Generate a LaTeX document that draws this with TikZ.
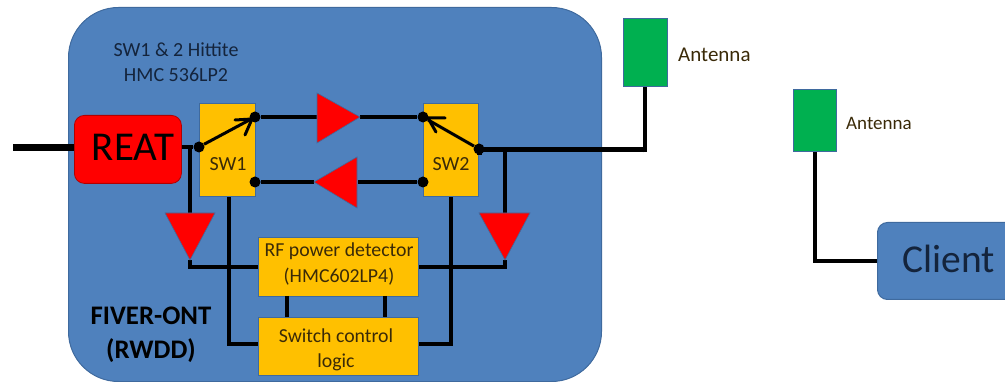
\documentclass[tikz,border=0pt]{standalone}
\usepackage{fontspec}
\setmainfont{Carlito}
\definecolor{bluebox}{HTML}{4F81BD}
\definecolor{blueedge}{HTML}{3F6A9E}
\definecolor{amberbox}{HTML}{FFC000}
\definecolor{greenbox}{HTML}{00B050}
\definecolor{darktext}{HTML}{14243C}
\definecolor{browntext}{HTML}{3A2A08}
\tikzset{
  panel/.style={fill=bluebox,draw=blueedge,line width=1pt,rounded corners=50pt,inner sep=0pt},
  amberblock/.style={fill=amberbox,draw=blueedge,line width=1pt,inner sep=0pt},
  ambertext/.style={inner sep=0pt,align=center,text=browntext,font=\fontsize{19.8}{25.5}\selectfont},
  antennablock/.style={fill=greenbox,draw=blueedge,line width=1pt,inner sep=0pt},
  wire/.style={line width=3.7pt,line cap=butt,line join=miter},
  thickwire/.style={line width=7pt},
  junction/.style={circle,fill=black,inner sep=0pt,minimum size=11pt},
  amp/.style={fill=red,draw=blueedge,line width=.6pt},
  boxat/.style n args={4}{minimum width=#3-#1,minimum height=#4-#2,anchor=north west},
  lbl/.style={inner sep=0pt,align=center},
}
\begin{document}
\begin{tikzpicture}[x=1pt,y=-1pt]
\useasboundingbox (0,0) rectangle (1005,382);
\clip (0,0) rectangle (1005,382);
% panel
\node[panel,boxat={68}{7}{601}{381}] (panel) at (68,7) {};
% blocks
\node[fill=red,rounded corners=10pt,draw=red!70!black,line width=.8pt,inner sep=0pt,boxat={74}{115}{181}{183}] (reat) at (74,115) {};
\node[lbl,font=\fontsize{41}{41}\selectfont] (reatl) at (133,147) {REAT};
\node[amberblock,boxat={199}{103}{255}{196}] (swa) at (199,103) {};
\node[amberblock,boxat={423}{103}{478}{196}] (swb) at (423,103) {};
\node[lbl,text=browntext,font=\fontsize{20}{20}\selectfont] (swal) at (228,164) {SW1};
\node[lbl,text=browntext,font=\fontsize{20}{20}\selectfont] (swbl) at (451,164) {SW2};
\node[amberblock,boxat={258}{237}{418}{296}] (rf) at (258,237) {};
\node[ambertext] (rfl) at (339,264) {RF power detector\\(HMC602LP4)};
\node[amberblock,boxat={258}{317}{418}{375}] (ctl) at (258,317) {};
\node[ambertext] (ctll) at (336,350) {Switch control\\logic};
\node[antennablock,boxat={623}{18}{667}{86}] (anta) at (623,18) {};
\node[antennablock,boxat={793}{89}{836}{151}] (antb) at (793,89) {};
\node[fill=bluebox,draw=blueedge,line width=1pt,rounded corners=10pt,inner sep=0pt,boxat={877}{222}{1030}{299}] (client) at (877,222) {};
% junctions
\node[junction] (ain) at (199,147) {};
\node[junction] (aup) at (255,117) {};
\node[junction] (adn) at (255,182) {};
\node[junction] (bup) at (423,117) {};
\node[junction] (bdn) at (423,182) {};
\node[junction] (bout) at (479,149) {};
% helper coordinates
\coordinate (start) at (13,148);
\coordinate (tapa) at (190,147);
\coordinate (ldtop) at (190,213);
\coordinate (ldtip) at (190,260);
\coordinate (ldcorner) at (190,267);
\coordinate (rdtop) at (505,213);
\coordinate (rdtip) at (505,260);
\coordinate (rdcorner) at (505,267);
\coordinate (tapb) at (505,150);
\coordinate (acorner) at (645,152.5);
\coordinate (upin) at (317,117);
\coordinate (upout) at (360,117);
\coordinate (dnin) at (358,182);
\coordinate (dnout) at (314,182);
% wires
\draw[thickwire] (start) -- (reat.west |- start);
\draw[wire] (reat.east |- tapa) -- (ain);
\draw[wire] (tapa) -- (ldtop);
\draw[wire] (ldtip) -- (ldcorner) -- (rf.west |- ldcorner);
\draw[wire] (swa.south -| 229,0) -- (229,344) -- (ctl.west |- 0,344);
\draw[wire] (aup) -- (upin);
\draw[wire] (upout) -- (bup);
\draw[wire] (bdn) -- (dnin);
\draw[wire] (dnout) -- (adn);
\draw[wire] (287,296) -- (287,317);
\draw[wire] (385,296) -- (385,317);
\draw[wire] (rf.east |- rdcorner) -- (rdcorner) -- (rdtip);
\draw[wire] (swb.south -| 451,0) -- (451,344) -- (ctl.east |- 0,344);
\draw[wire] (tapb) -- (rdtop);
\draw[line width=5pt] (bout) -- (479,150) -- (647,150);
\draw[wire] (acorner) -- (anta.south -| acorner);
\draw[wire] (antb.south) -- (815,261) -- (client.west |- 0,261);
% switch arms
\draw[line width=3pt] (ain) -- (aup);
\draw[line width=3pt,line cap=round] (235,120) -- (252,119) -- (245,135);
\draw[line width=3pt] (bout) -- (bup);
\draw[line width=3pt,line cap=round] (445,118) -- (428,118) -- (436,132);
% amplifiers
\draw[amp] (317,93) -- (360,117) -- (317,143) -- cycle;
\draw[amp] (357,157) -- (314,182) -- (357,208) -- cycle;
\draw[amp] (165,213) -- (215,213) -- (190,260) -- cycle;
\draw[amp] (479,213) -- (530,213) -- (505,260) -- cycle;
% texts
\node[lbl,text=darktext,font=\fontsize{20}{25}\selectfont] (title) at (176,62) {SW1 \& 2 Hittite\\HMC 536LP2};
\node[lbl,font=\bfseries\fontsize{26.8}{34}\selectfont] (fiver) at (151,335) {FIVER-ONT\\(RWDD)};
\node[lbl,text=browntext,font=\fontsize{21}{21}\selectfont,anchor=west] (antal) at (678,55) {Antenna};
\node[lbl,text=browntext,font=\fontsize{19}{19}\selectfont,anchor=west] (antbl) at (846,123) {Antenna};
\node[lbl,text=darktext,font=\fontsize{39.5}{39.5}\selectfont,anchor=west] (clientl) at (902,259) {Client};
\end{tikzpicture}
\end{document}
